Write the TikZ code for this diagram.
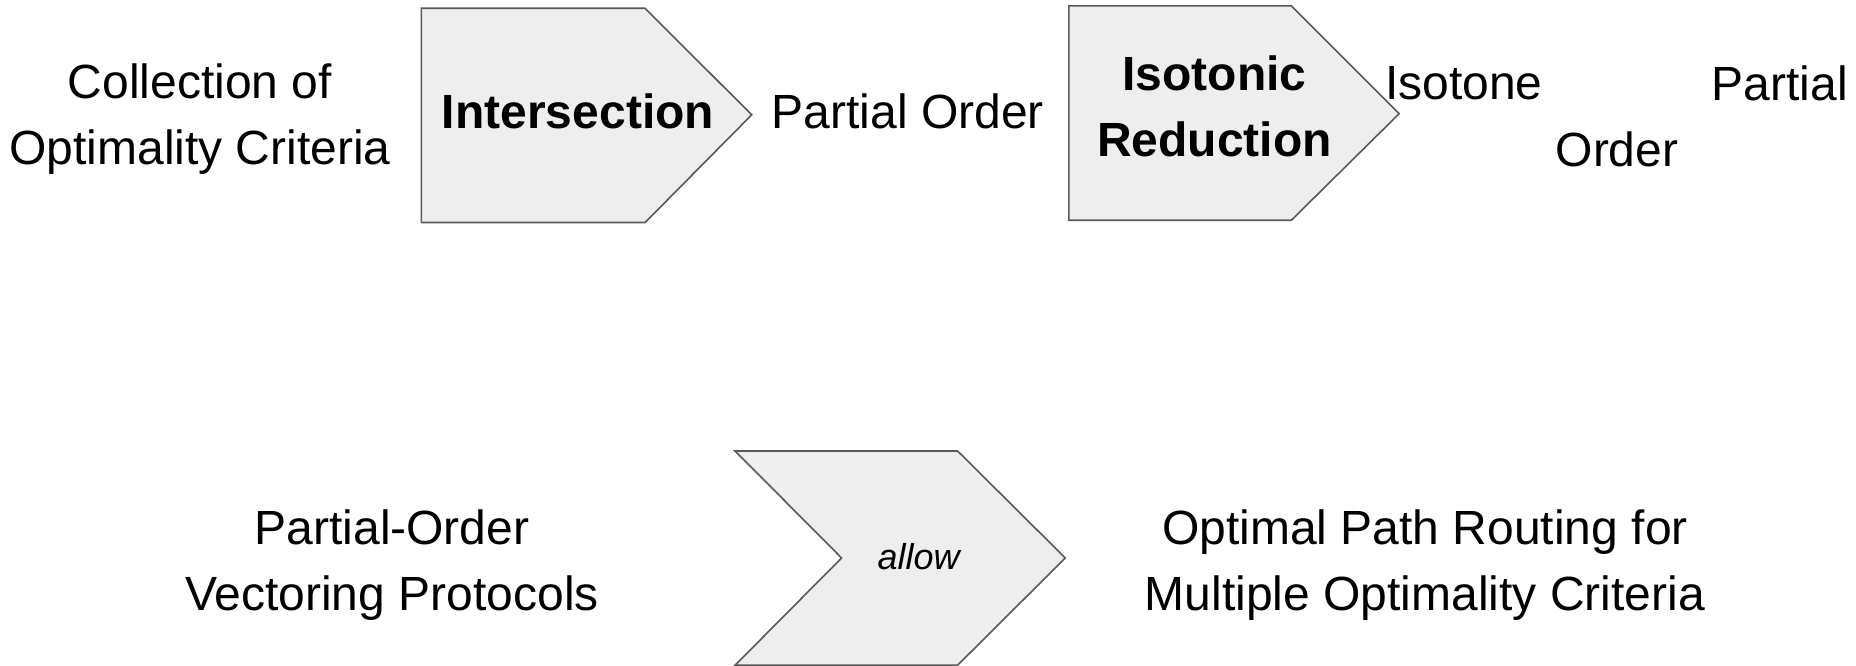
\documentclass[tikz,border=0pt]{standalone}
\usepackage{fontspec}
\setmainfont{Liberation Sans}
\begin{document}
\begin{tikzpicture}[x=1pt,y=-1pt,
  shapebox/.style={fill=boxfill,draw=boxline,line width=1.6pt,line join=miter},
  label/.style={font=\fontsize{48}{66}\selectfont,align=center,inner sep=0pt},
  boldlabel/.style={label,font=\fontsize{48}{66}\selectfont\bfseries},
  smalllabel/.style={inner sep=0pt,font=\fontsize{36}{44}\selectfont\itshape}]
\definecolor{boxfill}{HTML}{EEEEEE}
\definecolor{boxline}{HTML}{595959}
\useasboundingbox (0,0) rectangle (1856,666);

% process shapes
\draw[shapebox] (421.4,8.3) -- (645.1,8.3) -- (751.7,114.8) -- (645.1,222.5) -- (421.4,222.5) -- cycle;
\draw[shapebox] (1068.9,5.9) -- (1291.4,5.9) -- (1399.2,113.6) -- (1291.4,220.2) -- (1068.9,220.2) -- cycle;
\draw[shapebox] (735.1,451) -- (957.6,451) -- (1065.3,558) -- (957.6,665.2) -- (735.1,665.2) -- (841.6,558) -- cycle;

% top row
\node[label] (crit) at (200,119.5) {Collection of\\Optimality Criteria};
\node[boldlabel] (inter) at (578,111) {Intersection};
\node[label] (po) at (908,111) {Partial Order};
\node[boldlabel] (iso) at (1214.5,106) {Isotonic\\Reduction};
\node[label,anchor=west] (ipo1) at (1385,83) {Isotone};
\node[label,anchor=east] (ipo2) at (1848,83) {Partial};
\node[label] (ipo3) at (1617,149) {Order};

% bottom row
\node[label] (povp) at (392,565) {Partial-Order\\Vectoring Protocols};
\node[smalllabel] (allow) at (918.6,557) {allow};
\node[label] (opr) at (1425,565) {Optimal Path Routing for\\Multiple Optimality Criteria};
\end{tikzpicture}
\end{document}
